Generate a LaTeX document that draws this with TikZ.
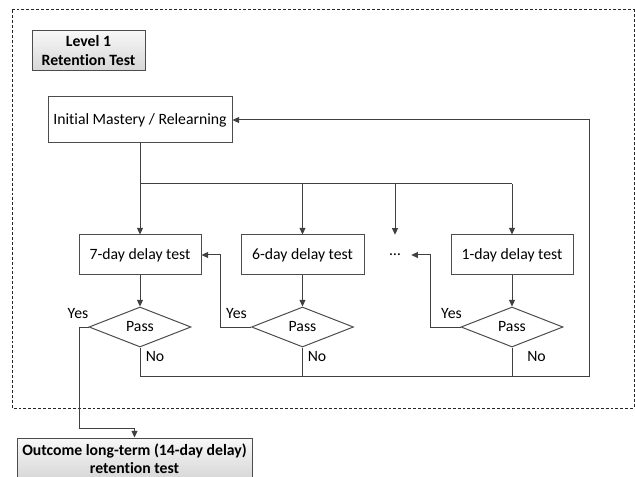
\documentclass[tikz,border=0pt]{standalone}
\usepackage{fontspec}
\setmainfont{Carlito}[Ligatures=CommonOff]
\usetikzlibrary{arrows.meta,shapes.geometric}
\begin{document}
\begin{tikzpicture}[x=0.75pt,y=-0.75pt,
  font=\fontsize{11.8}{14}\selectfont,
  ln/.style={draw=black!75, line width=0.75pt},
  arr/.style={ln,-{Triangle[length=5pt,width=4.5pt]}},
  box/.style={rectangle, draw=black!70, line width=0.75pt, fill=white, inner sep=0pt, align=center},
  hbox/.style={box, top color=black!3, bottom color=black!16, font=\fontsize{11.8}{14.2}\selectfont\bfseries},
  dia/.style={diamond, draw=black!70, line width=0.75pt, inner sep=0pt, minimum width=76.5pt, minimum height=30pt},
  lbl/.style={inner sep=0pt}
]
\useasboundingbox (0,0) rectangle (635,477);
% dashed frame
\draw[black!85, line width=0.75pt, dash pattern=on 2.2pt off 1.5pt] (12,10) rectangle (634,408);

\node[hbox, minimum width=84.75pt, minimum height=30pt] (lvl) at (88.5,51) {Level 1\\Retention Test};
\node[box, minimum width=138pt, minimum height=34.5pt] (init) at (140,120) {Initial Mastery / Relearning};

\node[box, minimum width=91.5pt, minimum height=30pt] (d7) at (140,255) {7-day delay test};
\node[box, minimum width=92.25pt, minimum height=30pt] (d6) at (302.5,255) {6-day delay test};
\node[box, minimum width=91.5pt, minimum height=30pt] (d1) at (512,255) {1-day delay test};
\node[inner sep=0pt, minimum width=24pt, minimum height=30pt] (dots) at (395,255) {…};

\node[dia] (p7) at (140,327) {Pass};
\node[dia] (p6) at (302.5,327) {Pass};
\node[dia] (p1) at (512,327) {Pass};

\node[hbox, minimum width=176.25pt, minimum height=31.5pt, font=\fontsize{11.8}{13.5}\selectfont\bfseries] (out) at (134.5,459) {Outcome long-term (14-day delay)\\retention test};

% coordinates
\coordinate (b0) at (140,184);
\coordinate (b6) at (302.5,184);
\coordinate (bd) at (395,184);
\coordinate (b1) at (512,184);
\coordinate (n7) at (140,376);
\coordinate (n6) at (302.5,376);
\coordinate (n1) at (512,376);
\coordinate (rb) at (589,376);
\coordinate (rt) at (589,120);
\coordinate (y7a) at (79,327);
\coordinate (y7b) at (79,428);
\coordinate (y7c) at (134.5,428);
\coordinate (y6a) at (220,327);
\coordinate (y6b) at (220,255);
\coordinate (y1a) at (430,327);
\coordinate (y1b) at (430,255);

% connectors
\draw[arr] (init.south) -- (d7.north);
\draw[ln] (b0) -- (b1);
\draw[arr] (b6) -- (d6.north);
\draw[arr] (bd) -- (dots.north);
\draw[arr] (b1) -- (d1.north);

\draw[arr] (d7.south) -- (p7.north);
\draw[arr] (d6.south) -- (p6.north);
\draw[arr] (d1.south) -- (p1.north);

\draw[arr] (p7.south) -- (n7) -- (rb) -- (rt) -- (init.east);
\draw[ln] (p6.south) -- (n6);
\draw[ln] (p1.south) -- (n1);

\draw[arr] (p7.west) -- (y7a) -- (y7b) -- (y7c) -- (out.north);
\draw[arr] (p6.west) -- (y6a) -- (y6b) -- (d7.east);
\draw[arr] (p1.west) -- (y1a) -- (y1b) -- (dots.east);

% labels
\node[lbl] (yes7) at (78,314) {Yes};
\node[lbl] (yes6) at (236.5,314) {Yes};
\node[lbl] (yes1) at (451.5,314) {Yes};
\node[lbl] (no7) at (155,357) {No};
\node[lbl] (no6) at (317,357) {No};
\node[lbl] (no1) at (536.5,357) {No};
\end{tikzpicture}
\end{document}
